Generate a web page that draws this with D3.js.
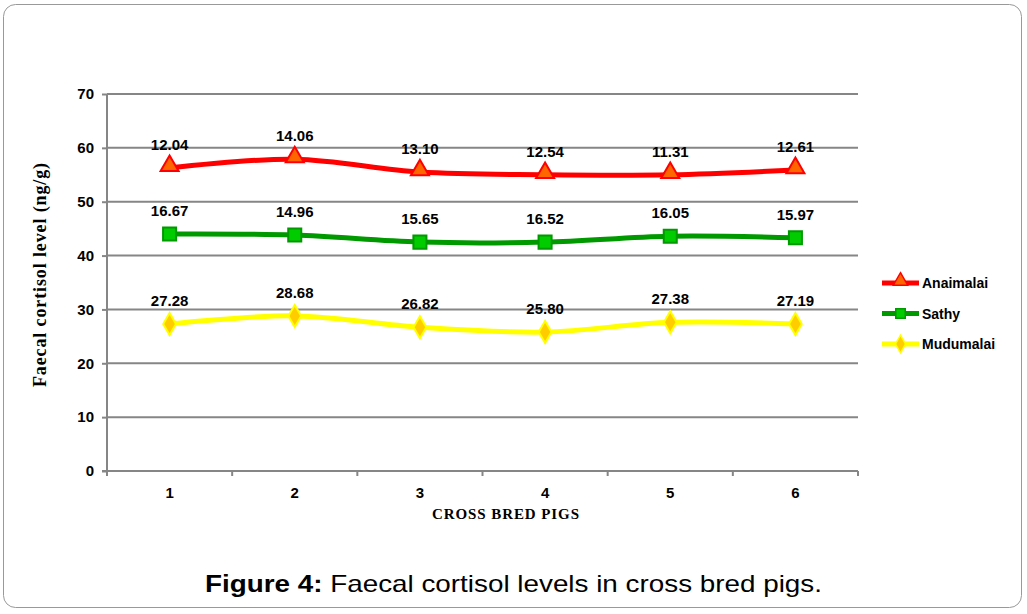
<!DOCTYPE html>
<html>
<head>
<meta charset="utf-8">
<script src="https://cdn.jsdelivr.net/npm/d3@7"></script>
<style>
  body { margin: 0; background: #fff; overflow: hidden; }
  svg { display: block; }
  .axis text { font-family: 'Liberation Sans', Arial, sans-serif; font-weight: bold; font-size: 15px; fill: #000; }
  .val { font-family: 'Liberation Sans', Arial, sans-serif; font-weight: bold; font-size: 15px; fill: #000; }
</style>
</head>
<body>
<svg id="chart"></svg>
<script>
var pigs = ['1', '2', '3', '4', '5', '6'];
var yTicks = [0, 10, 20, 30, 40, 50, 60, 70];
var seriesNames = ['Anaimalai', 'Sathy', 'Mudumalai'];
var anaimalai = [56.3, 57.9, 55.5, 55.0, 55.0, 55.9];
var sathy = [44.0, 43.8, 42.5, 42.5, 43.6, 43.3];
var mudumalai = [27.3, 28.8, 26.7, 25.8, 27.6, 27.3];
var anaimalaiLabels = ['12.04', '14.06', '13.10', '12.54', '11.31', '12.61'];
var sathyLabels = ['16.67', '14.96', '15.65', '16.52', '16.05', '15.97'];
var mudumalaiLabels = ['27.28', '28.68', '26.82', '25.80', '27.38', '27.19'];

var svgWidth = 1027;
var svgHeight = 614;
var borders = { left: 107, right: 169, top: 94, bottom: 143 };
var innerWidth = svgWidth - borders.left - borders.right;
var innerHeight = svgHeight - borders.top - borders.bottom;

var series = [
  { name: seriesNames[0], values: anaimalai, labels: anaimalaiLabels, line: '#ff0000', fill: '#ff6600', stroke: '#ff0000', marker: d3.symbolTriangle },
  { name: seriesNames[1], values: sathy, labels: sathyLabels, line: '#009900', fill: '#00cc00', stroke: '#009900', marker: d3.symbolSquare },
  { name: seriesNames[2], values: mudumalai, labels: mudumalaiLabels, line: '#ffff00', fill: '#ffcc00', stroke: '#ffff00', marker: d3.symbolDiamond }
];

var svg = d3.select('#chart')
  .attr('width', svgWidth)
  .attr('height', svgHeight);

// outer frame
svg.append('rect')
  .attr('x', 3.5).attr('y', 4.5)
  .attr('width', 1018).attr('height', 603)
  .attr('rx', 12).attr('ry', 12)
  .attr('fill', 'none')
  .attr('stroke', '#999')
  .attr('stroke-width', 1);

var xBand = d3.scaleBand()
  .domain(pigs)
  .range([0, innerWidth]);

var yScale = d3.scaleLinear()
  .domain([0, 70])
  .range([innerHeight, 0]);

var g = svg.append('g')
  .attr('transform', 'translate(' + borders.left + ',' + borders.top + ')');

// grid
g.selectAll('.grid')
  .data(yTicks.filter(function (d) { return d > 0; }))
  .enter()
  .append('line')
  .attr('x1', 0).attr('x2', innerWidth)
  .attr('y1', function (d) { return yScale(d); })
  .attr('y2', function (d) { return yScale(d); })
  .attr('stroke', '#868686')
  .attr('stroke-width', 2);

var yAxis = d3.axisLeft(yScale)
  .tickValues(yTicks)
  .tickSize(5)
  .tickPadding(8);

var yG = g.append('g').attr('class', 'axis').call(yAxis);
yG.selectAll('line, path').attr('stroke', '#868686').attr('stroke-width', 2);
yG.select('.domain').attr('d', 'M0,0V' + innerHeight);

// x axis
var xG = g.append('g')
  .attr('class', 'axis')
  .attr('transform', 'translate(0,' + innerHeight + ')');
xG.append('line')
  .attr('x1', -5).attr('x2', innerWidth)
  .attr('stroke', '#868686').attr('stroke-width', 2);
xG.selectAll('.tk')
  .data(pigs.concat(['end']))
  .enter()
  .append('line')
  .attr('x1', function (d, i) { return i * xBand.bandwidth(); })
  .attr('x2', function (d, i) { return i * xBand.bandwidth(); })
  .attr('y1', 0).attr('y2', 5)
  .attr('stroke', '#868686').attr('stroke-width', 2);
xG.selectAll('.lbl')
  .data(pigs)
  .enter()
  .append('text')
  .attr('x', function (d) { return xBand(d) + xBand.bandwidth() / 2; })
  .attr('y', 27)
  .attr('text-anchor', 'middle')
  .text(function (d) { return d; });

function xPos(i) {
  return xBand(pigs[i]) + xBand.bandwidth() / 2;
}

var line = d3.line()
  .x(function (d, i) { return xPos(i); })
  .y(function (d) { return yScale(d); })
  .curve(d3.curveCatmullRom.alpha(0.5));

series.forEach(function (s) {
  g.append('path')
    .datum(s.values)
    .attr('d', line)
    .attr('fill', 'none')
    .attr('stroke', s.line)
    .attr('stroke-width', 5);

  g.selectAll('.m-' + s.name)
    .data(s.values)
    .enter()
    .append('path')
    .attr('d', d3.symbol().type(s.marker).size(s.marker === d3.symbolSquare ? 170 : 140))
    .attr('transform', function (d, i) { return 'translate(' + xPos(i) + ',' + (yScale(d) - (s.marker === d3.symbolTriangle ? 2 : 0)) + ')'; })
    .attr('fill', s.fill)
    .attr('stroke', s.stroke)
    .attr('stroke-width', 2);

  g.selectAll('.v-' + s.name)
    .data(s.values)
    .enter()
    .append('text')
    .attr('class', 'val')
    .attr('x', function (d, i) { return xPos(i); })
    .attr('y', function (d) { return yScale(d) - 18; })
    .attr('text-anchor', 'middle')
    .text(function (d, i) { return s.labels[i]; });
});

// legend
var legend = svg.append('g')
  .attr('transform', 'translate(882,283)');
series.forEach(function (s, i) {
  var lg = legend.append('g').attr('transform', 'translate(0,' + i * 30.5 + ')');
  lg.append('line')
    .attr('x1', 0).attr('x2', 37)
    .attr('stroke', s.line).attr('stroke-width', 5);
  lg.append('path')
    .attr('d', d3.symbol().type(s.marker).size(90))
    .attr('transform', 'translate(18.5,' + (s.marker === d3.symbolTriangle ? -2 : 0) + ')')
    .attr('fill', s.fill)
    .attr('stroke', s.stroke)
    .attr('stroke-width', 1.5);
  lg.append('text')
    .attr('class', 'val')
    .attr('x', 40)
    .attr('y', 5)
    .style('font-size', '14px')
    .text(s.name);
});

// y label
svg.append('text')
  .attr('transform', 'rotate(-90)')
  .attr('x', -275)
  .attr('y', 46)
  .attr('text-anchor', 'middle')
  .attr('textLength', 224)
  .attr('lengthAdjust', 'spacing')
  .style('font-family', "'Liberation Serif', 'Times New Roman', serif")
  .style('font-weight', 'bold')
  .style('font-size', '18px')
  .text('Faecal cortisol level (ng/g)');

// x label
svg.append('text')
  .attr('x', 432)
  .attr('y', 519)
  .attr('textLength', 147)
  .attr('lengthAdjust', 'spacing')
  .style('font-family', "'Liberation Serif', 'Times New Roman', serif")
  .style('font-weight', 'bold')
  .style('font-size', '15px')
  .text('CROSS BRED PIGS');

// caption
var cap = svg.append('text')
  .attr('x', 205)
  .attr('y', 592)
  .attr('textLength', 617)
  .attr('lengthAdjust', 'spacingAndGlyphs')
  .style('font-family', "'Liberation Sans', Arial, sans-serif")
  .style('font-size', '24px');
cap.append('tspan').style('font-weight', 'bold').text('Figure 4:');
cap.append('tspan').text(' Faecal cortisol levels in cross bred pigs.');
</script>
</body>
</html>
